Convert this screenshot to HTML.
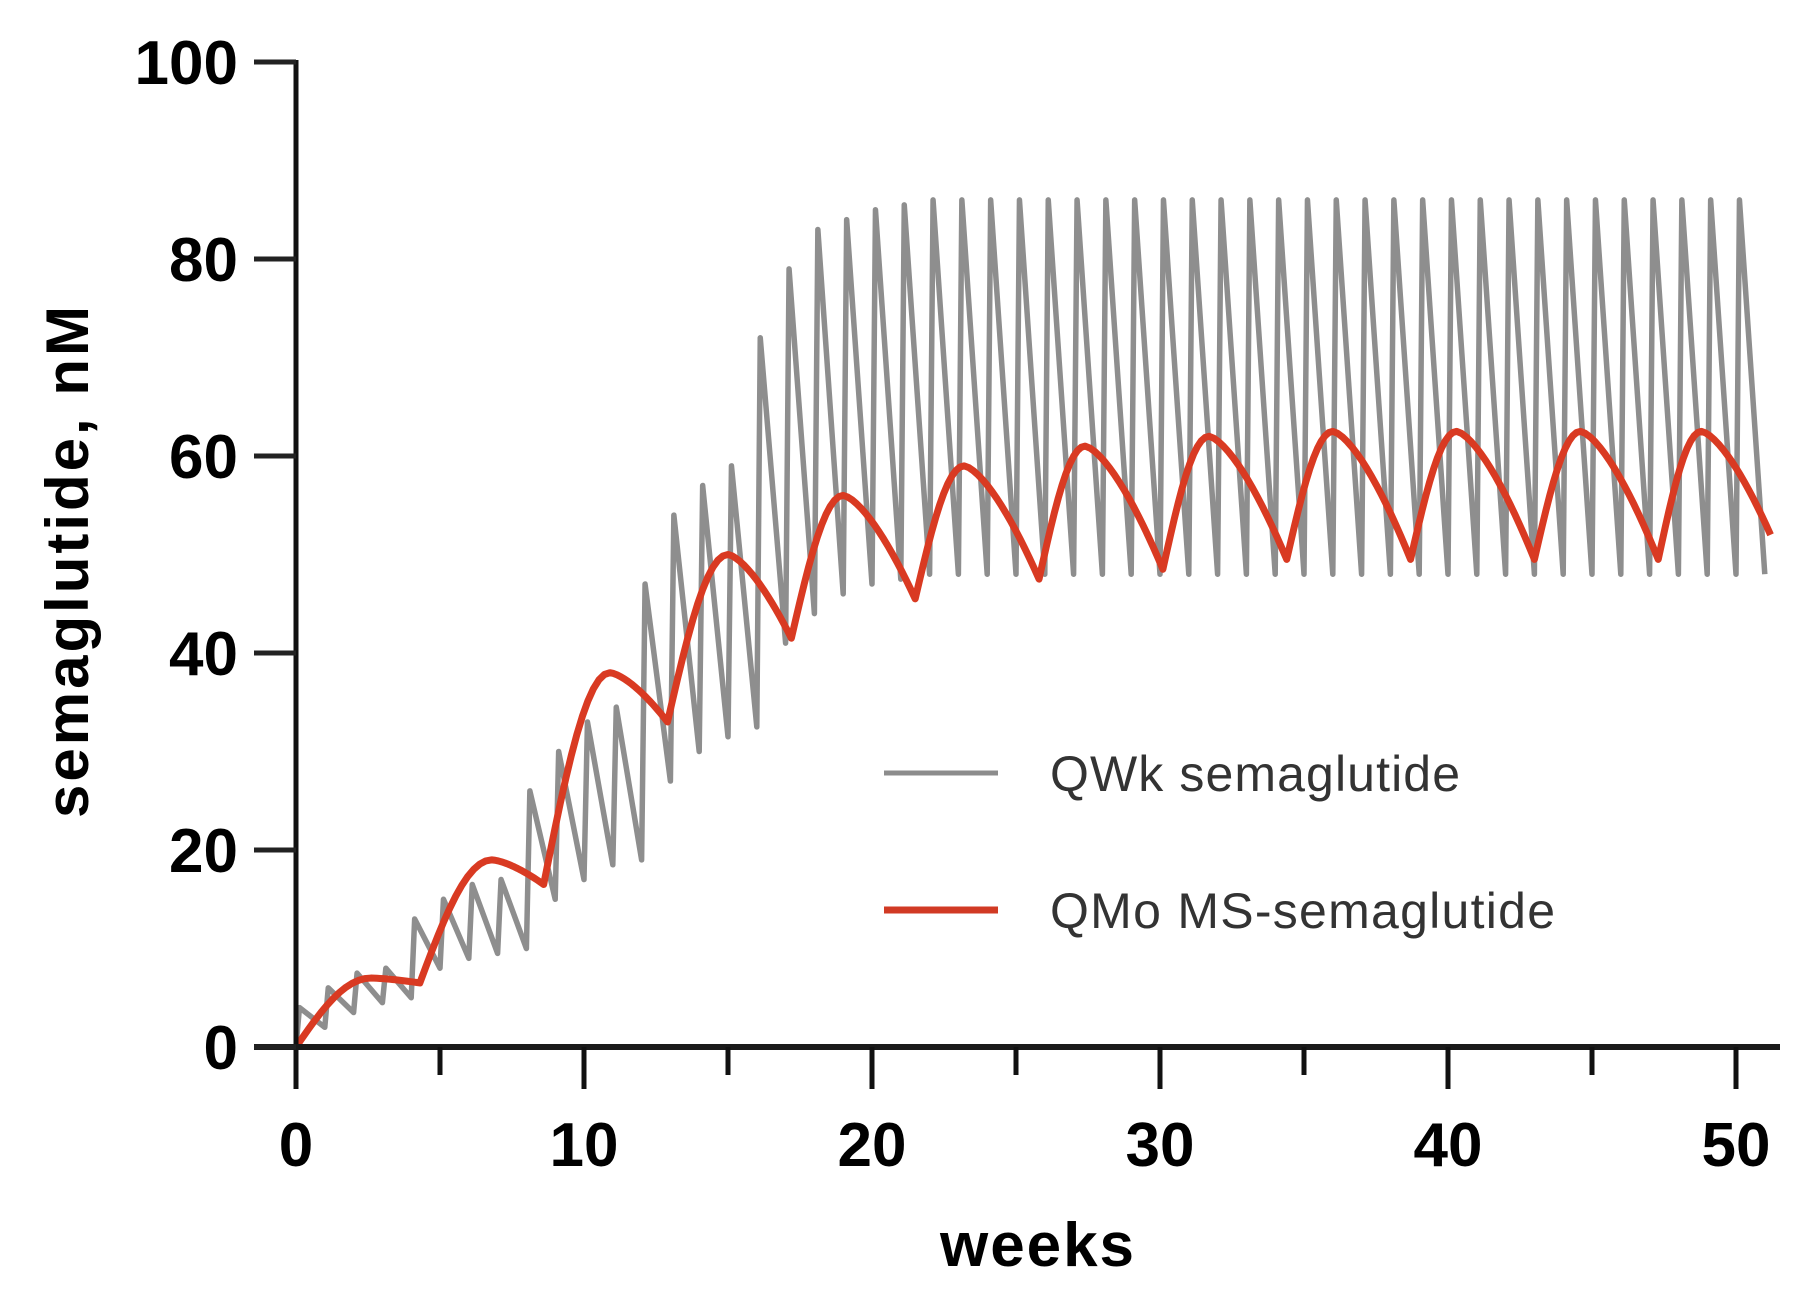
<!DOCTYPE html>
<html><head><meta charset="utf-8">
<style>
body{margin:0;background:#fff;}
svg{display:block;}
text{font-family:"Liberation Sans",sans-serif;}
</style></head>
<body>
<svg id="chart" width="1812" height="1296" viewBox="0 0 1812 1296" xmlns="http://www.w3.org/2000/svg">
<g id="plot"></g>
<g id="axes"></g>
<text x="0" y="0" transform="translate(88,562) rotate(-90)" text-anchor="middle" font-size="60" font-weight="bold" textLength="512">semaglutide, nM</text>
<text x="1037" y="1266" text-anchor="middle" font-size="62" font-weight="bold" textLength="194">weeks</text>
<g>
<line x1="884" y1="773" x2="998" y2="773" stroke="#8c8c8c" stroke-width="5"/>
<text x="1050" y="791" font-size="50" fill="#333" textLength="410">QWk semaglutide</text>
<line x1="884" y1="910" x2="998" y2="910" stroke="#d13a24" stroke-width="7"/>
<text x="1050" y="928" font-size="50" fill="#333" textLength="505">QMo MS-semaglutide</text>
</g>
</svg>
<script>
// QWk weekly dosing: trough at each week start, peak just after dose
const qwkTroughs = [0,2,3.5,4.5,5, 8,9,9.5,10, 15,17,18.5,19, 27,30,31.5,32.5, 41,44,46,47,47.5,48,48,48,48,48,48,48,48,48,48,48,48,48,48,48,48,48,48,48,48,48,48,48,48,48,48,48,48,48,48];
const qwkPeaks = [4,6,7.5,8, 13,15,16.5,17, 26,30,33,34.5, 47,54,57,59, 72,79,83,84,85,85.5,86,86,86,86,86,86,86,86,86,86,86,86,86,86,86,86,86,86,86,86,86,86,86,86,86,86,86,86,86];
// QMo monthly dosing
const qmoDoseWeeks = [0,4.3,8.6,12.9,17.2,21.5,25.8,30.1,34.4,38.7,43.0,47.3];
const qmoTroughs = [0,6.5,16.5,33,41.5,45.5,47.5,48.5,49.5,49.5,49.5,49.5];
const qmoPeakWeeks = [2.6,6.8,10.9,15.0,19.0,23.2,27.4,31.7,36.0,40.3,44.6,48.8];
const qmoPeaks = [7,19,38,50,56,59,61,62,62.5,62.5,62.5,62.5];
const qmoEnd = [51.2, 52];
const xTicks = [0,10,20,30,40,50];
const yTicks = [0,20,40,60,80,100];

const X0=296, XS=28.8, Y0=1047, YS=9.85;
const xs = w => X0 + w*XS;
const ys = v => Y0 - v*YS;
const NS="http://www.w3.org/2000/svg";
function mk(tag, parent){const e=document.createElementNS(NS,tag);parent.appendChild(e);return e;}
const plot=document.getElementById('plot'), axes=document.getElementById('axes');

let d=`M${xs(0)},${ys(qwkTroughs[0])}`;
for(let i=0;i<qwkPeaks.length;i++){
  d+=` L${xs(i+0.12)},${ys(qwkPeaks[i])} L${xs(i+1)},${ys(qwkTroughs[i+1])}`;
}
const g=mk('path',plot);


g.setAttribute('d',d);g.setAttribute('fill','none');g.setAttribute('stroke','#8e8e8e');g.setAttribute('stroke-width','5.5');g.setAttribute('stroke-linejoin','round');

let rd=`M${xs(qmoDoseWeeks[0])},${ys(qmoTroughs[0])}`;
for(let i=0;i<qmoDoseWeeks.length;i++){
  const t0=qmoDoseWeeks[i], tp=qmoPeakWeeks[i], v0=qmoTroughs[i], vp=qmoPeaks[i];
  const t1 = i+1<qmoDoseWeeks.length?qmoDoseWeeks[i+1]:qmoEnd[0];
  const v1 = i+1<qmoTroughs.length?qmoTroughs[i+1]:qmoEnd[1];
  for(let k=1;k<=12;k++){const s=k/12;rd+=` L${xs(t0+(tp-t0)*s)},${ys(v0+(vp-v0)*Math.sin(Math.PI/2*s))}`;}
  for(let k=1;k<=16;k++){const s=k/16;rd+=` L${xs(tp+(t1-tp)*s)},${ys(vp-(vp-v1)*Math.pow(s,1.5))}`;}
}
const r=mk('path',plot);


r.setAttribute('d',rd);r.setAttribute('fill','none');r.setAttribute('stroke','#d93a22');r.setAttribute('stroke-width','7');r.setAttribute('stroke-linejoin','round');

const ya=mk('line',axes);


ya.setAttribute('x1',X0);ya.setAttribute('x2',X0);ya.setAttribute('y1',ys(100)-2);ya.setAttribute('y2',Y0+42);ya.setAttribute('stroke','#111');ya.setAttribute('stroke-width','5');
const xa=mk('line',axes);


xa.setAttribute('x1',X0-42);xa.setAttribute('x2',1780);xa.setAttribute('y1',Y0);xa.setAttribute('y2',Y0);xa.setAttribute('stroke','#1a1a1a');xa.setAttribute('stroke-width','6');
yTicks.forEach(v=>{
  const t=mk('line',axes);
  
  
  t.setAttribute('x1',X0-42);t.setAttribute('x2',X0);t.setAttribute('y1',ys(v));t.setAttribute('y2',ys(v));t.setAttribute('stroke','#222');t.setAttribute('stroke-width','5');
  const l=mk('text',axes);
  
  
  l.setAttribute('x',238);l.setAttribute('y',ys(v)+22);l.setAttribute('text-anchor','end');l.setAttribute('font-size','62');l.setAttribute('font-weight','bold');l.textContent=v;
});
for(let w=5;w<=50;w+=5){
  const t=mk('line',axes);
  
  
  const major = w%10===0;
  t.setAttribute('x1',xs(w));t.setAttribute('x2',xs(w));t.setAttribute('y1',Y0);t.setAttribute('y2',Y0+(major?42:28));t.setAttribute('stroke','#111');t.setAttribute('stroke-width','5');
}
xTicks.forEach(w=>{
  const l=mk('text',axes);
  
  
  l.setAttribute('x',xs(w));l.setAttribute('y',1166);l.setAttribute('text-anchor','middle');l.setAttribute('font-size','62');l.setAttribute('font-weight','bold');l.textContent=w;
});
</script>
</body></html>
